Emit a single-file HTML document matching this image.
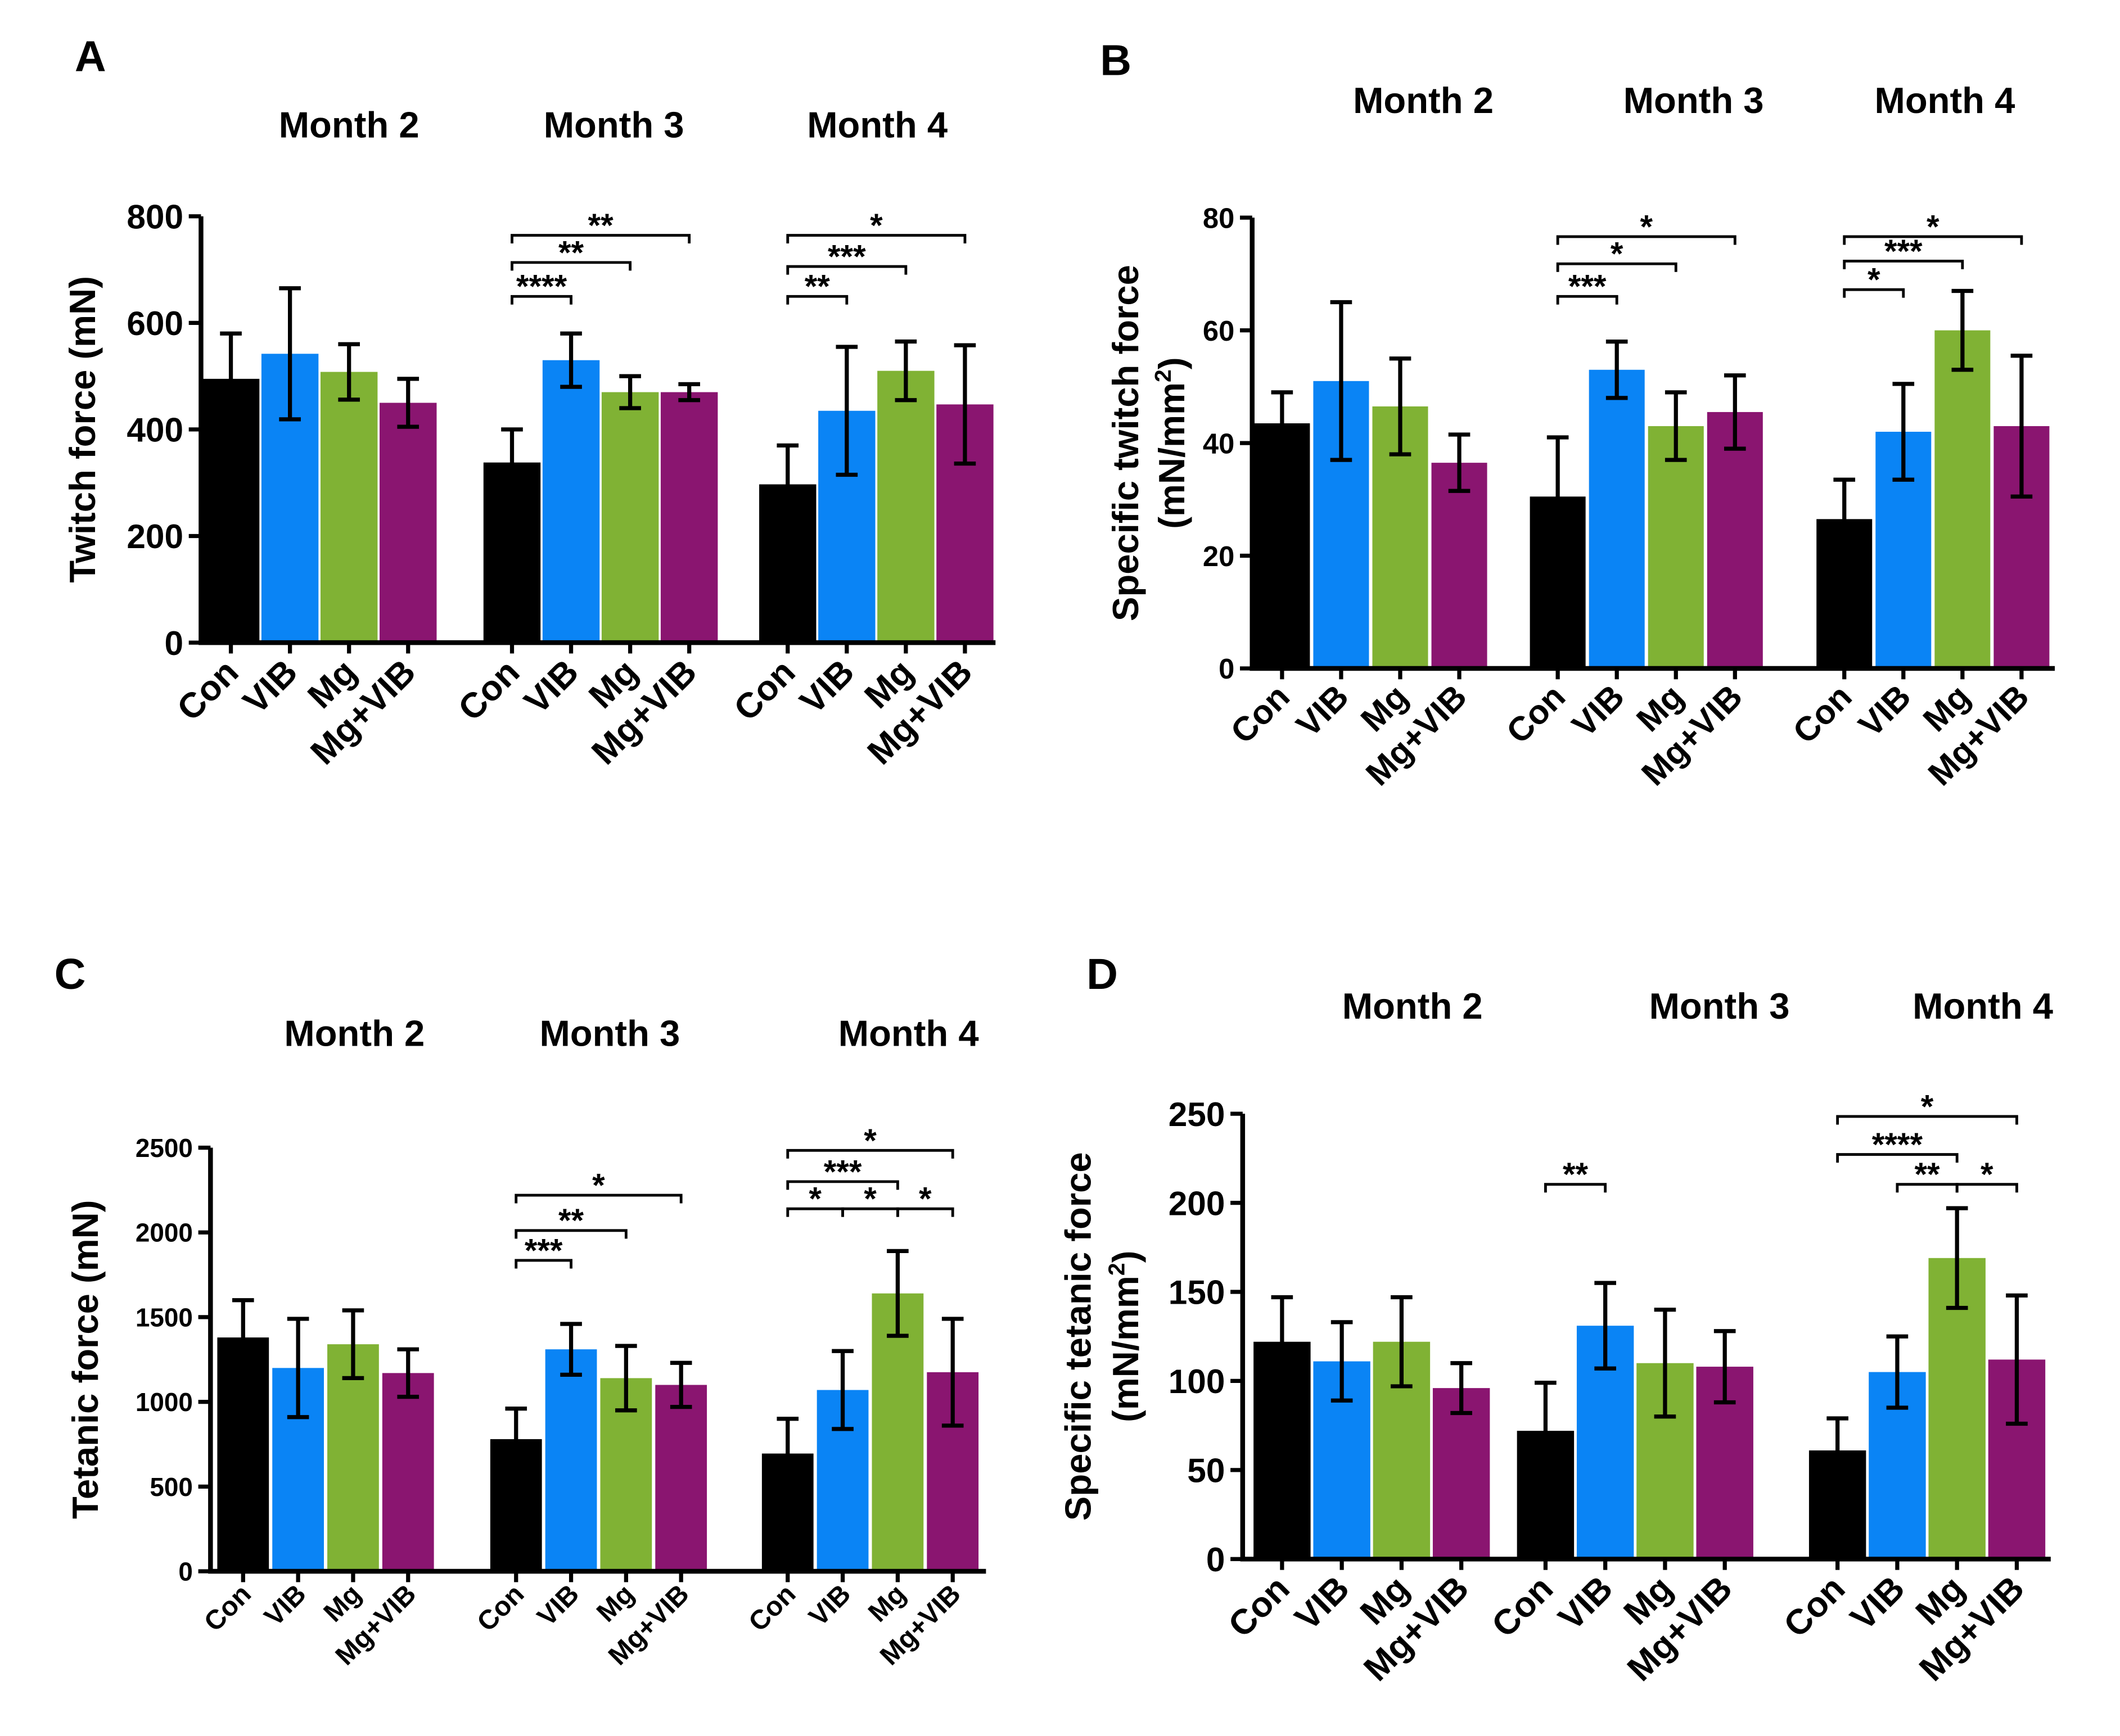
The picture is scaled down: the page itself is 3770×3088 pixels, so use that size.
<!DOCTYPE html>
<html><head><meta charset="utf-8"><style>
html,body{margin:0;padding:0;background:#fff}
svg{display:block}
text{font-family:"Liberation Sans",Arial,sans-serif;font-weight:bold;fill:#000}
</style></head><body>
<svg id="fig" width="3770" height="3088" viewBox="0 0 1561 1278" xmlns="http://www.w3.org/2000/svg"></svg>
<script>
// ---- data ----
const groups = ["Month 2","Month 3","Month 4"];
const categories = ["Con","VIB","Mg","Mg+VIB"];
const aMeans = [[495,542,508,450],[338,530,470,470],[297,435,510,447]];
const aSD = [[85,123,52,45],[62,50,30,15],[73,120,55,111]];
const aTicks = [0,200,400,600,800];
const bMeans = [[43.5,51,46.5,36.5],[30.5,53,43,45.5],[26.5,42,60,43]];
const bSD = [[5.5,14,8.5,5],[10.5,5,6,6.5],[7,8.5,7,12.5]];
const bTicks = [0,20,40,60,80];
const cMeans = [[1380,1200,1340,1170],[780,1310,1140,1100],[695,1070,1640,1175]];
const cSD = [[220,290,200,140],[180,150,190,130],[205,230,250,315]];
const cTicks = [0,500,1000,1500,2000,2500];
const dMeans = [[122,111,122,96],[72,131,110,108],[61,105,169,112]];
const dSD = [[25,22,25,14],[27,24,30,20],[18,20,28,36]];
const dTicks = [0,50,100,150,200,250];
// significance brackets: [group, from, to, label]
const aSig = [[1,0,1,"****"],[1,0,2,"**"],[1,0,3,"**"],[2,0,1,"**"],[2,0,2,"***"],[2,0,3,"*"]];
const bSig = [[1,0,1,"***"],[1,0,2,"*"],[1,0,3,"*"],[2,0,1,"*"],[2,0,2,"***"],[2,0,3,"*"]];
const cSig = [[1,0,1,"***"],[1,0,2,"**"],[1,0,3,"*"],[2,0,1,"*"],[2,1,2,"*"],[2,2,3,"*"],[2,0,2,"***"],[2,0,3,"*"]];
const dSig = [[1,0,1,"**"],[2,1,2,"**"],[2,2,3,"*"],[2,0,2,"****"],[2,0,3,"*"]];

const colors=["#000000","#0a84f5","#80b234","#8a1570"];
const svg=document.getElementById('fig');
const NS="http://www.w3.org/2000/svg";
function el(tag,attrs,parent){const e=document.createElementNS(NS,tag);for(const k in attrs)e.setAttribute(k,attrs[k]);(parent||svg).appendChild(e);return e;}

function panel(cfg){
  const g=el('g',{});
  
  
  const yMax=cfg.ticks[cfg.ticks.length-1];
  const Y=v=>cfg.y0-(v/yMax)*(cfg.y0-cfg.yTop);
  const X=(gi,ci)=>cfg.starts[gi]+ci*cfg.step;
  const L=el('text',{x:cfg.lx,y:cfg.ly,'font-size':32},g);L.textContent=cfg.letter;
  
  
  groups.forEach((m,gi)=>{const t=el('text',{x:cfg.mx[gi],y:cfg.my,'font-size':27,'text-anchor':'middle'},g);t.textContent=m;
    
    });
  cfg.means.forEach((row,gi)=>row.forEach((v,ci)=>{
    const cx=X(gi,ci);
    const r=el('rect',{x:cx-cfg.bw/2,y:Y(v),width:cfg.bw,height:cfg.y0-Y(v),fill:colors[ci]},g);
    
    
    const sd=cfg.sd[gi][ci];
    const e=el('path',{d:`M${cx},${Y(v-sd)}V${Y(v+sd)}M${cx-8},${Y(v+sd)}h16M${cx-8},${Y(v-sd)}h16`,stroke:'#000','stroke-width':3,fill:'none'},g);
    
    
    el('line',{x1:cx,x2:cx,y1:cfg.y0,y2:cfg.y0+8,stroke:'#000','stroke-width':3},g);
    const t=el('text',{x:0,y:0,'font-size':cfg.xfs,'text-anchor':'end',transform:`translate(${cx+7},${cfg.y0+cfg.xfs*0.9}) rotate(-45)`},g);
    t.textContent=categories[ci];
    
    
  }));
  const ax=el('path',{d:`M${cfg.x0},${cfg.yTop}V${cfg.y0}H${cfg.xEnd}`,stroke:'#000','stroke-width':3.5,fill:'none'},g);
  
  
  cfg.ticks.forEach(tv=>{
    el('line',{x1:cfg.x0-9,x2:cfg.x0,y1:Y(tv),y2:Y(tv),stroke:'#000','stroke-width':3},g);
    const t=el('text',{x:cfg.x0-13,y:Y(tv)+cfg.yfs*0.36,'font-size':cfg.yfs,'text-anchor':'end'},g);
    t.textContent=tv;
    
    
  });
  cfg.titles.forEach((tt,i)=>{
    const cy=(cfg.y0+cfg.yTop)/2;
    const t=el('text',{x:0,y:0,'font-size':27,'text-anchor':'middle',transform:`translate(${cfg.tx[i]},${cy}) rotate(-90)`},g);
    t.innerHTML=tt;
    
    
  });
  cfg.sig.forEach((s,i)=>{
    const x1=X(s[0],s[1]),x2=X(s[0],s[2]),yy=cfg.sigY[i];
    const p=el('path',{d:`M${x1},${yy+6}V${yy}H${x2}V${yy+6}`,stroke:'#000','stroke-width':2,fill:'none'},g);
    
    
    const t=el('text',{x:(x1+x2)/2,y:yy+1,'font-size':24,'text-anchor':'middle'},g);
    t.textContent=s[3];
    
    
  });
}

panel({letter:'A',lx:55,ly:52,mx:[257,452,646],my:101,means:aMeans,sd:aSD,ticks:aTicks,sig:aSig,
  sigY:[218,193,173,218,196,173],x0:148,xEnd:733,y0:473,yTop:159,starts:[170,377,580],step:43.5,bw:42,xfs:26,yfs:25,
  titles:['Twitch force (mN)'],tx:[70]});
panel({letter:'B',lx:810,ly:55,mx:[1048,1247,1432],my:83,means:bMeans,sd:bSD,ticks:bTicks,sig:bSig,
  sigY:[218,194,174,213,192,174],x0:922,xEnd:1513,y0:492,yTop:160,starts:[944,1147,1358],step:43.5,bw:41,xfs:25,yfs:21,
  titles:['Specific twitch force','(mN/mm<tspan dy="-10" font-size="17">2</tspan><tspan dy="10">)</tspan>'],tx:[838,872]});
panel({letter:'C',lx:40,ly:728,mx:[261,449,669],my:770,means:cMeans,sd:cSD,ticks:cTicks,sig:cSig,
  sigY:[928,906,880,890,890,890,870,847],x0:155,xEnd:726,y0:1157,yTop:845,starts:[179,380,580],step:40.5,bw:38,xfs:20,yfs:19,
  titles:['Tetanic force (mN)'],tx:[72]});
panel({letter:'D',lx:800,ly:728,mx:[1040,1266,1460],my:750,means:dMeans,sd:dSD,ticks:dTicks,sig:dSig,
  sigY:[872,872,872,850,822],x0:915,xEnd:1510,y0:1148,yTop:820,starts:[944,1138,1353],step:44,bw:42,xfs:26,yfs:25,
  titles:['Specific tetanic force','(mN/mm<tspan dy="-10" font-size="17">2</tspan><tspan dy="10">)</tspan>'],tx:[803,838]});
</script>
</body></html>
